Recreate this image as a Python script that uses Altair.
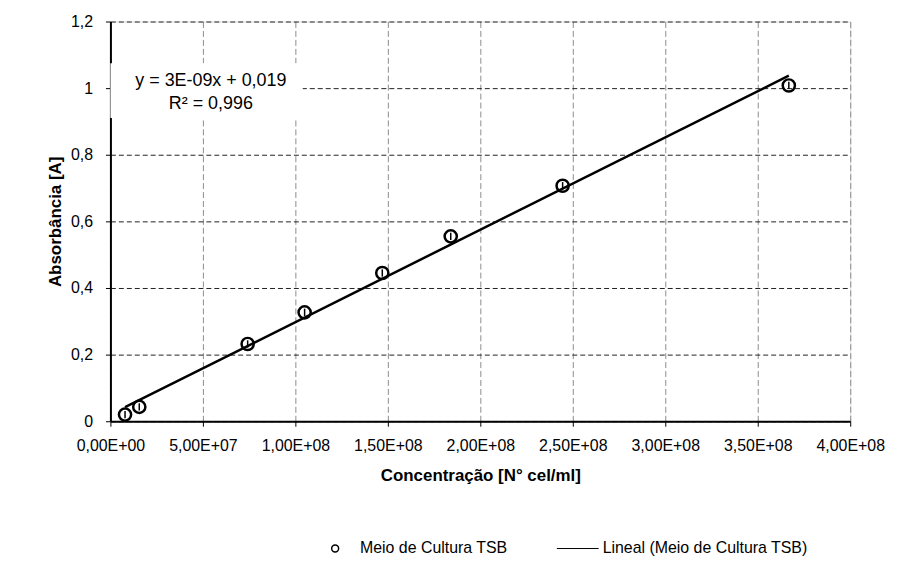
import altair as alt
import pandas as pd

# Data
concentracao = [7.9e6, 1.56e7, 7.42e7, 1.05e8, 1.47e8, 1.84e8, 2.445e8, 3.668e8]
absorbancia = [0.020, 0.043, 0.232, 0.327, 0.445, 0.555, 0.707, 1.008]
serie_pontos = "Meio de Cultura TSB"
serie_linha = "Lineal (Meio de Cultura TSB)"

x_ticks = [0, 5e7, 1e8, 1.5e8, 2e8, 2.5e8, 3e8, 3.5e8, 4e8]
x_tick_labels = ["0,00E+00", "5,00E+07", "1,00E+08", "1,50E+08", "2,00E+08",
                 "2,50E+08", "3,00E+08", "3,50E+08", "4,00E+08"]
y_ticks = [0, 0.2, 0.4, 0.6, 0.8, 1.0, 1.2]
y_tick_labels = ["0", "0,2", "0,4", "0,6", "0,8", "1", "1,2"]

eq_text = ["y = 3E-09x + 0,019", "R² = 0,996"]
eq_pos = {"x": 5.43e7, "y": 1.02}
eq_box = {"x": 0, "x2": 1.04e8, "y": 0.91, "y2": 1.075}

FONT = "Liberation Sans"

df = pd.DataFrame({"x": concentracao, "y": absorbancia,
                   "serie": [serie_pontos] * len(concentracao)})

x_label_expr = "[" + ",".join("'%s'" % s for s in x_tick_labels) + "][round(datum.value/5e7)]"
y_label_expr = "[" + ",".join("'%s'" % s for s in y_tick_labels) + "][round(datum.value/0.2)]"

x_enc = alt.X("x:Q", scale=alt.Scale(domain=[0, 4e8], nice=False),
              axis=alt.Axis(values=x_ticks, labelExpr=x_label_expr,
                            title="Concentração [N° cel/ml]",
                            grid=True, gridColor="#8c8c8c", gridDash=[6, 3], gridWidth=1,
                            domainColor="black", domainWidth=2,
                            tickColor="black", tickSize=5, tickWidth=1,
                            labelFont=FONT, labelFontSize=16, labelColor="black",
                            labelPadding=11, titleFont=FONT, titleFontSize=17,
                            titleFontWeight="bold", titleColor="black", titlePadding=15,
                            labelFlush=False, labelOverlap=False))
y_enc = alt.Y("y:Q", scale=alt.Scale(domain=[0, 1.2], nice=False),
              axis=alt.Axis(values=y_ticks, labelExpr=y_label_expr,
                            title="Absorbância [A]",
                            grid=True, gridColor="#222222", gridDash=[5, 3], gridWidth=1,
                            domainColor="black", domainWidth=2,
                            tickColor="black", tickSize=5, tickWidth=1,
                            labelFont=FONT, labelFontSize=16, labelColor="black",
                            labelPadding=13, titleFont=FONT, titleFontSize=17,
                            titleFontWeight="bold", titleColor="black", titlePadding=6,
                            labelFlush=False, labelOverlap=False))

base = alt.Chart(df)

box_df = pd.DataFrame([eq_box])
box = alt.Chart(box_df).mark_rect(fill="white").encode(
    x=alt.X("x:Q", scale=alt.Scale(domain=[0, 4e8], nice=False)),
    x2="x2:Q",
    y=alt.Y("y:Q", scale=alt.Scale(domain=[0, 1.2], nice=False)),
    y2="y2:Q",
)

fit_line = base.transform_regression("x", "y", method="linear").transform_calculate(
    fit="'" + serie_linha + "'"
).mark_line(strokeWidth=2.5).encode(
    x=x_enc, y=y_enc,
    color=alt.Color("fit:N", scale=alt.Scale(domain=[serie_linha], range=["black"]),
                    legend=alt.Legend(title=None, orient="none", legendX=462, legendY=522,
                                      symbolType="M-6,0L6,0", symbolSize=49,
                                      symbolStrokeWidth=1, symbolStrokeColor="black",
                                      labelFont=FONT, labelFontSize=16, labelColor="black",
                                      labelOffset=17, labelLimit=400, padding=0)),
)

points = base.mark_point(filled=False, color="black", strokeWidth=2.5, size=150, opacity=1).encode(
    x=x_enc, y=y_enc,
    shape=alt.Shape("serie:N", scale=alt.Scale(domain=[serie_pontos], range=["circle"]),
                    legend=alt.Legend(title=None, orient="none", legendX=218, legendY=522,
                                      symbolSize=49, symbolStrokeWidth=1.5,
                                      symbolStrokeColor="black", symbolFillColor="transparent",
                                      labelFont=FONT, labelFontSize=16, labelColor="black",
                                      labelOffset=17, labelLimit=400, padding=0)),
)

inner_ticks = base.mark_point(filled=False, color="black", strokeWidth=1.5, size=150,
                              shape="M0,-0.6L0,0.6", opacity=1).encode(x=x_enc, y=y_enc)

eq_df = pd.DataFrame([{"x": eq_pos["x"], "y": eq_pos["y"], "t": eq_text}])
eq = alt.Chart(eq_df).mark_text(font=FONT, fontSize=18, color="black", align="center",
                                baseline="middle", lineHeight=23).encode(
    x=alt.X("x:Q", scale=alt.Scale(domain=[0, 4e8], nice=False)),
    y=alt.Y("y:Q", scale=alt.Scale(domain=[0, 1.2], nice=False)),
    text="t",
)

chart = alt.layer(box, fit_line, points, inner_ticks, eq).properties(
    width=744, height=402,
    autosize=alt.AutoSizeParams(type="none"),
    padding={"left": 103, "top": 12, "right": 40, "bottom": 145},
).configure_view(stroke="black", strokeWidth=1).configure(background="white")

chart.save("out.html", embed_options={"renderer": "svg", "actions": False})
